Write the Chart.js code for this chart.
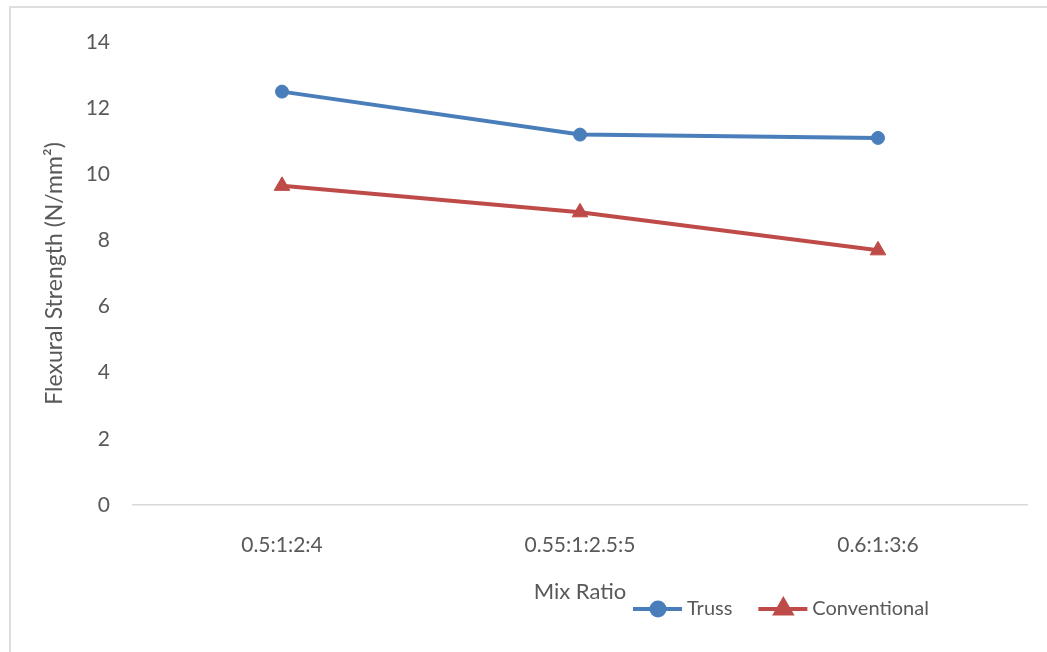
<!DOCTYPE html>
<html>
<head>
<meta charset="utf-8">
<script src="https://cdn.jsdelivr.net/npm/chart.js@4.4.0/dist/chart.umd.min.js"></script>
<style>
    html, body { margin: 0; padding: 0; background: #fff; overflow: hidden; }
    #wrap { position: relative; width: 1047px; height: 652px; overflow: hidden; }
    #frame { position: absolute; left: 9px; top: 6px; width: 1100px; height: 700px; border: 2px solid #dedede; box-sizing: border-box; }
    #myChart { position: absolute; left: 0; top: 0; }
</style>
</head>
<body>
<div id="wrap">
    <div id="frame"></div>
    <canvas id="myChart" width="1047" height="652"></canvas>
</div>
<script>
// data
var mixRatios = ['0.5:1:2:4', '0.55:1:2.5:5', '0.6:1:3:6'];
var truss = [12.5, 11.2, 11.1];
var conventional = [9.65, 8.85, 7.7];
var yTicks = [0, 2, 4, 6, 8, 10, 12, 14];

var textColor = '#595959';
var fontFamily = 'Lato, "Open Sans", sans-serif';

// legend drawn as line + marker like the original office chart
var lineLegend = {
    id: 'lineLegend',
    afterDraw: function(chart) {
        var ctx = chart.ctx;
        var x = 633;
        var y = 609;
        ctx.save();
        ctx.font = '20px ' + fontFamily;
        ctx.textBaseline = 'middle';
        chart.data.datasets.forEach(function(ds) {
            ctx.strokeStyle = ds.borderColor;
            ctx.lineWidth = 4;
            ctx.beginPath();
            ctx.moveTo(x, y);
            ctx.lineTo(x + 49, y);
            ctx.stroke();
            ctx.fillStyle = ds.borderColor;
            Chart.helpers.drawPoint(ctx, {
                pointStyle: ds.pointStyle,
                radius: ds.pointRadius,
                borderWidth: 1,
                rotation: 0
            }, x + 25, y);
            ctx.fill();
            ctx.fillStyle = textColor;
            ctx.fillText(ds.label, x + 54, y);
            x += 54 + ctx.measureText(ds.label).width + 26;
        });
        ctx.restore();
    }
};

var ctx = document.getElementById('myChart').getContext('2d');
var chart = new Chart(ctx, {
    type: 'line',
    data: {
        labels: mixRatios,
        datasets: [{
            label: 'Truss',
            data: truss,
            borderColor: '#4a7ebb',
            backgroundColor: '#4a7ebb',
            pointBackgroundColor: '#4a7ebb',
            pointBorderColor: '#4a7ebb',
            borderWidth: 4,
            pointStyle: 'circle',
            pointRadius: 6.5,
            pointBorderWidth: 1,
            tension: 0
        }, {
            label: 'Conventional',
            data: conventional,
            borderColor: '#be4b48',
            backgroundColor: '#be4b48',
            pointBackgroundColor: '#be4b48',
            pointBorderColor: '#be4b48',
            borderWidth: 4,
            pointStyle: 'triangle',
            pointRadius: 9,
            pointBorderWidth: 1,
            tension: 0
        }]
    },
    options: {
        responsive: false,
        animation: false,
        layout: { padding: { left: 40, right: 20, top: 42, bottom: 47 } },
        plugins: {
            legend: { display: false },
            tooltip: { enabled: false }
        },
        scales: {
            x: {
                offset: true,
                grid: { display: false, drawTicks: false },
                border: { display: true, color: '#d9d9d9', width: 1.5 },
                ticks: { color: textColor, padding: 28, font: { family: fontFamily, size: 21 } },
                title: { display: true, text: 'Mix Ratio', color: textColor, padding: { top: 0, bottom: 0 }, font: { family: fontFamily, size: 22 } },
                afterFit: function(scale) { scale.height = 100; }
            },
            y: {
                min: 0,
                max: 14,
                grid: { display: false, drawTicks: false },
                border: { display: false },
                afterBuildTicks: function(scale) {
                    scale.ticks = yTicks.map(function(v) { return { value: v }; });
                },
                ticks: { color: textColor, padding: 23, font: { family: fontFamily, size: 21 } },
                title: { display: true, text: 'Flexural Strength (N/mm²)', color: textColor, padding: { top: 1, bottom: 0 }, font: { family: fontFamily, size: 23 } },
                afterFit: function(scale) { scale.width = 93; }
            }
        }
    },
    plugins: [lineLegend]
});
</script>
</body>
</html>
